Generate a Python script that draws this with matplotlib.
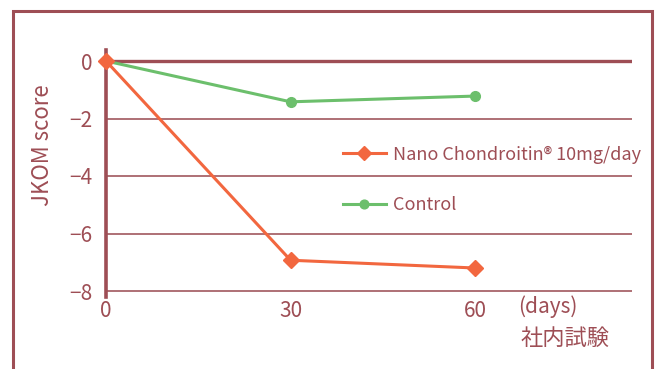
import matplotlib.pyplot as plt
from matplotlib.patches import Rectangle

plt.rcParams['font.family'] = ['Noto Sans CJK JP', 'DejaVu Sans']

days = [0, 30, 60]
nano = [0, -6.93, -7.2]
control = [0, -1.42, -1.22]
yticks = [0, -2, -4, -6, -8]

brown = '#9e4e55'
grid_c = '#a8646a'

fig = plt.figure(figsize=(6.6, 3.69), dpi=100)

# outer frame
fig.patches.append(Rectangle((13 / 660, -0.1), 639 / 660, 1 - 11 / 369 + 0.1,
                             transform=fig.transFigure, fill=False,
                             edgecolor=brown, linewidth=2.2))

ax = fig.add_axes([106 / 660, (369 - 296.75) / 369, 526 / 660, 247.25 / 369])
ax.set_xlim(0, 85.5)
ax.set_ylim(-8.2, 0.4)

for y in yticks:
    if y == 0:
        ax.axhline(y, color=brown, lw=2.4, zorder=1)
    else:
        ax.axhline(y, color=grid_c, lw=1.3, zorder=1)

ax.plot(days, control, color='#6cbf6c', lw=2.2, marker='o', ms=7,
        label='Control', zorder=3, clip_on=False)
ax.plot(days, nano, color='#f2673f', lw=2.2, marker='D', ms=8,
        label='Nano Chondroitin® 10mg/day', zorder=4, clip_on=False)

for s in ['top', 'right', 'bottom']:
    ax.spines[s].set_visible(False)
ax.spines['left'].set_color(brown)
ax.spines['left'].set_linewidth(2.6)

ax.set_xticks(days)
ax.set_yticks(yticks)
ax.set_yticklabels([str(v).replace('-', '\u2212') for v in yticks])
ax.tick_params(length=0, labelcolor=brown, labelsize=15)
ax.tick_params(axis='x', pad=2)
ax.tick_params(axis='y', pad=10)

ax.set_ylabel('JKOM score', color=brown, fontsize=16)
ax.yaxis.set_label_coords(-0.098, 0.614)

handles, labels = ax.get_legend_handles_labels()
ax.legend(handles[::-1], labels[::-1], loc='upper left',
          bbox_to_anchor=(0.45, 0.612), frameon=False, fontsize=13,
          labelcolor=brown, handlelength=2.4, handletextpad=0.4,
          labelspacing=1.8, borderpad=0, borderaxespad=0,
          markerscale=0.9)

fig.text(518 / 660, 1 - 307 / 369, '(days)', color=brown, fontsize=15,
         va='center', ha='left')
fig.text(521 / 660, 1 - 338 / 369, '社内試験', color=brown, fontsize=16,
         va='center', ha='left')

fig.savefig('out.png', dpi=100)
